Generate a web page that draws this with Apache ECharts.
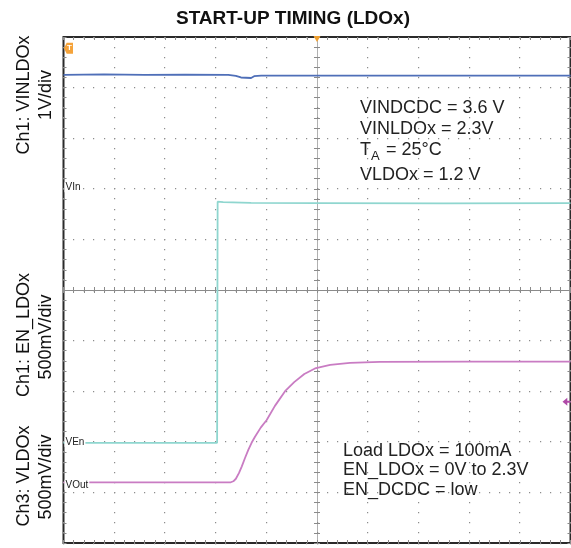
<!DOCTYPE html>
<html>
<head>
<meta charset="utf-8">
<script src="https://cdn.jsdelivr.net/npm/echarts@6/dist/echarts.min.js"></script>
<style>
  html, body { margin: 0; padding: 0; background: #fff; }
  #chart { width: 571px; height: 548px; }
</style>
</head>
<body>
<div id="chart"></div>
<script>
// Scope screen: 10 x 10 divisions, both axes centred on the trigger point.
const divTicks = [-5, -4, -3, -2, -1, 0, 1, 2, 3, 4, 5];
const minorPerDiv = 5;

// Traces, as [time (div), level (div)]
const vinldoTrace = [
  [-5, 4.25], [-4.2, 4.26], [-3.4, 4.25], [-2.6, 4.255], [-1.75, 4.25],
  [-1.6, 4.23], [-1.5, 4.2], [-1.3, 4.19], [-1.24, 4.225], [-1.1, 4.235],
  [0, 4.235], [2.5, 4.235], [5, 4.235]
];
const enTrace = [
  [-5, -3.02], [-3.5, -3.02], [-1.97, -3.02], [-1.96, 1.745], [-1.85, 1.735],
  [-1.3, 1.72], [0, 1.715], [2.5, 1.71], [5, 1.715]
];
const voutTrace = [
  [-5, -3.8], [-1.7, -3.8], [-1.65, -3.78], [-1.6, -3.73], [-1.54, -3.62],
  [-1.485, -3.49], [-1.42, -3.32], [-1.355, -3.16], [-1.29, -3.02],
  [-1.223, -2.9], [-1.11, -2.72], [-0.992, -2.57], [-0.83, -2.29],
  [-0.63, -2.0], [-0.45, -1.82], [-0.25, -1.66], [-0.04, -1.55],
  [0.26, -1.48], [0.65, -1.44], [1.24, -1.42], [3, -1.415], [5, -1.415]
];

// Channel reference levels (div)
const vinRef = 2.03, enRef = -3.0, voutRef = -3.85;
const triggerLevel = 4.78, ch3Marker = -2.21;

const conditionsTop = ['VINDCDC = 3.6 V', 'VINLDOx = 2.3V', 'VLDOx = 1.2 V'];
const conditionsBottom = ['Load LDOx = 100mA', 'EN_LDOx = 0V to 2.3V', 'EN_DCDC = low'];

const FONT = '"Liberation Sans", Arial, sans-serif';
const GL = 63.5, GT = 37, GW = 507, GH = 506;

const chart = echarts.init(document.getElementById('chart'), null, { renderer: 'canvas' });

function scopeAxis(extra) {
  return Object.assign({
    type: 'value', min: -5, max: 5, interval: 1,
    axisLabel: { show: false },
    axisLine: { show: false, onZero: false },
    axisTick: { show: true, inside: true, length: 3, lineStyle: { color: '#8a8a8a' } },
    minorTick: { show: true, splitNumber: minorPerDiv, length: 3, lineStyle: { color: '#8a8a8a' } },
    splitLine: { show: false }
  }, extra);
}
const centreLine = (c) => ({ show: true, onZero: true, onZeroAxisIndex: 0, lineStyle: { color: c, width: 1 } });

// Dotted graticule: one dot per minor division along every major line
function renderGraticule(params, api) {
  const v = api.value(0);
  const dots = [];
  const steps = 10 * minorPerDiv;
  const dot = (p) => ({ type: 'rect',
    shape: { x: Math.floor(p[0]), y: Math.floor(p[1]), width: 1.2, height: 1.2 },
    style: { fill: '#8c8c8c' } });
  for (let i = 0; i <= steps; i++) {
    const t = -5 + i / minorPerDiv;
    dots.push(dot(api.coord([v, t])));   // along the vertical line
    dots.push(dot(api.coord([t, v])));   // along the horizontal line
  }
  return { type: 'group', children: dots };
}

const labelStyle = {
  show: true, position: 'right', distance: 1, color: '#222', fontFamily: FONT,
  fontSize: 10, backgroundColor: '#fff', padding: [0, 1, 0, 1]
};

const option = {
  animation: false,
  backgroundColor: '#fff',
  title: {
    text: 'START-UP TIMING (LDOx)',
    left: 171, top: 4,
    textStyle: { fontFamily: FONT, fontSize: 19, fontWeight: 'bold', color: '#111' }
  },
  grid: {
    left: GL, top: GT, width: GW, height: GH,
    show: true, borderColor: '#2a2a2a', borderWidth: 2, backgroundColor: '#fff'
  },
  xAxis: [
    scopeAxis({ position: 'bottom' }),
    scopeAxis({ position: 'top' }),
    scopeAxis({ position: 'bottom', axisLine: centreLine('#8a8a8a') }),
    scopeAxis({ position: 'top', axisLine: centreLine('#8a8a8a') })
  ],
  yAxis: [
    scopeAxis({ position: 'left' }),
    scopeAxis({ position: 'right' }),
    scopeAxis({ position: 'left', axisLine: centreLine('#b0b0b0') }),
    scopeAxis({ position: 'right', axisLine: centreLine('#b0b0b0') })
  ],
  series: [
    {
      type: 'custom', name: 'graticule', data: divTicks.map(v => [v]),
      renderItem: renderGraticule, silent: true, z: 1, clip: false
    },
    {
      type: 'line', name: 'VINLDOx', data: vinldoTrace, symbol: 'none',
      lineStyle: { color: '#4f6fb8', width: 1.8 }, z: 5,
      markPoint: {
        silent: true,
        data: [
          { coord: [0, 5], symbol: 'triangle', symbolRotate: 180, symbolSize: [7, 6],
            symbolOffset: [0, 2], itemStyle: { color: '#f0a030' }, label: { show: false } },
          { coord: [-5, triggerLevel], symbol: 'path://M0,5 L3,0 L10,0 L10,10 L3,10 Z',
            symbolSize: [9, 11], symbolOffset: [5, 0], itemStyle: { color: '#f5a33a' },
            label: { show: true, formatter: 'T', position: 'inside', color: '#fff',
                     fontSize: 8, fontWeight: 'bold', fontFamily: FONT, offset: [1, 0] } },
          { coord: [-5, vinRef], symbol: 'rect', symbolSize: 0,
            label: Object.assign({ formatter: 'VIn' }, labelStyle) }
        ]
      }
    },
    {
      type: 'line', name: 'EN_LDOx', data: enTrace, symbol: 'none',
      lineStyle: { color: '#8fd6cf', width: 1.8 }, z: 4,
      markPoint: {
        silent: true,
        data: [
          { coord: [-5, enRef], symbol: 'rect', symbolSize: 0,
            label: Object.assign({ formatter: 'VEn' }, labelStyle) }
        ]
      }
    },
    {
      type: 'line', name: 'VLDOx', data: voutTrace, symbol: 'none',
      lineStyle: { color: '#c97cc3', width: 1.8 }, z: 4,
      markPoint: {
        silent: true,
        data: [
          { coord: [-5, voutRef], symbol: 'rect', symbolSize: 0,
            label: Object.assign({ formatter: 'VOut' }, labelStyle) },
          { coord: [5, ch3Marker], symbol: 'path://M0,4 L6,0 L6,3 L10,3 L10,5 L6,5 L6,8 Z',
            symbolSize: [8, 8], symbolOffset: [-4, 0], itemStyle: { color: '#b04aa8' },
            label: { show: false } }
        ]
      }
    }
  ],
  graphic: [
    // channel captions, rotated along the left edge
    { type: 'text', x: 24, y: 95, rotation: Math.PI / 2,
      style: { text: 'Ch1: VINLDOx', fontSize: 18, fontFamily: FONT, fill: '#111', align: 'center', verticalAlign: 'middle' } },
    { type: 'text', x: 46, y: 95, rotation: Math.PI / 2,
      style: { text: '1V/div', fontSize: 18, fontFamily: FONT, fill: '#111', align: 'center', verticalAlign: 'middle' } },
    { type: 'text', x: 24, y: 335, rotation: Math.PI / 2,
      style: { text: 'Ch1: EN_LDOx', fontSize: 18, fontFamily: FONT, fill: '#111', align: 'center', verticalAlign: 'middle' } },
    { type: 'text', x: 46, y: 337, rotation: Math.PI / 2,
      style: { text: '500mV/div', fontSize: 18, fontFamily: FONT, fill: '#111', align: 'center', verticalAlign: 'middle' } },
    { type: 'text', x: 24, y: 476, rotation: Math.PI / 2,
      style: { text: 'Ch3: VLDOx', fontSize: 18, fontFamily: FONT, fill: '#111', align: 'center', verticalAlign: 'middle' } },
    { type: 'text', x: 46, y: 477, rotation: Math.PI / 2,
      style: { text: '500mV/div', fontSize: 18, fontFamily: FONT, fill: '#111', align: 'center', verticalAlign: 'middle' } },

    // test conditions
    { type: 'text', x: 360, y: 108, z: 10,
      style: { text: conditionsTop[0], fontSize: 18, fontFamily: FONT, fill: '#222', verticalAlign: 'middle' } },
    { type: 'text', x: 360, y: 129, z: 10,
      style: { text: conditionsTop[1], fontSize: 18, fontFamily: FONT, fill: '#222', verticalAlign: 'middle' } },
    { type: 'text', x: 360, y: 150.5, z: 10,
      style: { text: 'T', fontSize: 18, fontFamily: FONT, fill: '#222', verticalAlign: 'middle' } },
    { type: 'text', x: 371, y: 156, z: 10,
      style: { text: 'A', fontSize: 13, fontFamily: FONT, fill: '#222', verticalAlign: 'middle' } },
    { type: 'text', x: 381, y: 150.5, z: 10,
      style: { text: ' = 25°C', fontSize: 18, fontFamily: FONT, fill: '#222', verticalAlign: 'middle' } },
    { type: 'text', x: 360, y: 175.5, z: 10,
      style: { text: conditionsTop[2], fontSize: 18, fontFamily: FONT, fill: '#222', verticalAlign: 'middle' } },
    { type: 'text', x: 343, y: 451.5, z: 10,
      style: { text: conditionsBottom[0], fontSize: 18, fontFamily: FONT, fill: '#222', verticalAlign: 'middle' } },
    { type: 'text', x: 343, y: 470, z: 10,
      style: { text: conditionsBottom[1], fontSize: 18, fontFamily: FONT, fill: '#222', verticalAlign: 'middle' } },
    { type: 'text', x: 343, y: 490, z: 10,
      style: { text: conditionsBottom[2], fontSize: 18, fontFamily: FONT, fill: '#222', verticalAlign: 'middle' } }
  ]
};

chart.setOption(option);
</script>
</body>
</html>
